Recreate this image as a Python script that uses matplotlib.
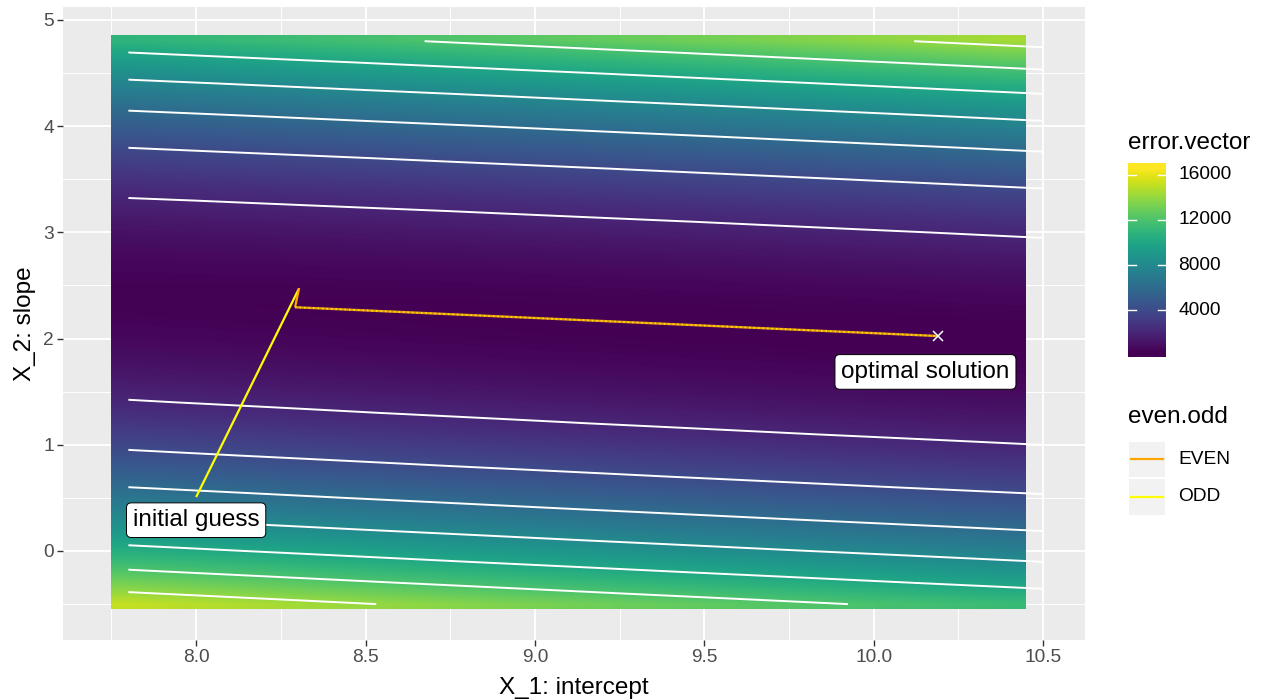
import numpy as np
import matplotlib.pyplot as plt
from matplotlib.lines import Line2D
from matplotlib.patches import Rectangle

# --- datos -------------------------------------------------------------
# superficie de error (suma de cuadrados) alrededor de la solucion optima
b0_opt = 10.19          # intercepto en el minimo
b1_opt = 2.02           # pendiente en el minimo
sse_min = 300
valley_slope = -0.148   # direccion del valle (d b1 / d b0)
curv_across = 1786      # subida del error por unidad^2 fuera del valle
curv_along = 15         # subida del error por unidad^2 a lo largo del valle

raster_b0 = np.round(np.arange(7.8, 10.41, 0.1), 2)
raster_b1 = np.round(np.arange(-0.5, 4.81, 0.1), 2)
contour_b0 = np.round(np.arange(7.8, 10.51, 0.1), 2)
contour_b1 = raster_b1
contour_levels = [2000, 4000, 6000, 8000, 10000, 12000, 14000, 16000]
fill_limits = [300, 16600]
cbar_ticks = [4000, 8000, 12000, 16000]

# camino del descenso por gradiente
path_b0 = [8.0, 8.304, 8.292, 10.19]
path_b1 = [0.508, 2.474, 2.295, 2.024]
parity_names = ['EVEN', 'ODD']
parity_colors = {'EVEN': '#FFA500', 'ODD': '#FFFF00'}

x_ticks = [8.0, 8.5, 9.0, 9.5, 10.0, 10.5]
x_minor = [7.75, 8.25, 8.75, 9.25, 9.75, 10.25]
y_ticks = [0, 1, 2, 3, 4, 5]
y_minor = [-0.5, 0.5, 1.5, 2.5, 3.5, 4.5]


def sse(b0, b1):
    u = b0 - b0_opt
    w = b1 - (b1_opt + valley_slope * u)
    return sse_min + curv_across * w ** 2 + curv_along * u ** 2


W, H = 1261, 700
def fx(px):
    return px / W
def fy(py):
    return 1 - py / H

TITLE = 17.5
SMALL = 13.8

plt.rcParams['font.family'] = ['Liberation Sans', 'DejaVu Sans']
fig = plt.figure(figsize=(W / 100, H / 100), dpi=100)

# --- panel -------------------------------------------------------------
ax = fig.add_axes([fx(63), fy(640), (1085 - 63) / W, (640 - 7) / H])
ax.set_facecolor('#EBEBEB')
for s in ax.spines.values():
    s.set_visible(False)

B0, B1 = np.meshgrid(raster_b0, raster_b1)
Z = sse(B0, B1)
half = 0.05
ax.imshow(Z, origin='lower', cmap='viridis', vmin=fill_limits[0], vmax=fill_limits[1],
          extent=[raster_b0[0] - half, raster_b0[-1] + half, raster_b1[0] - half, raster_b1[-1] + half],
          interpolation='bilinear', aspect='auto', zorder=1)

C0, C1 = np.meshgrid(contour_b0, contour_b1)
ax.contour(C0, C1, sse(C0, C1), levels=contour_levels, colors='white', linewidths=1.4, zorder=2)

# camino: paso 1 impar, paso 2 par, despues alternando a lo largo del valle
ax.plot(path_b0[0:2], path_b1[0:2], color=parity_colors['ODD'], lw=1.6,
        solid_capstyle='butt', zorder=3)
ax.plot(path_b0[1:3], path_b1[1:3], color=parity_colors['EVEN'], lw=1.6,
        solid_capstyle='butt', zorder=3)
ax.plot(path_b0[2:], path_b1[2:], color='#E89A10', lw=1.7,
        solid_capstyle='butt', zorder=3)
ax.plot(path_b0[2:], path_b1[2:], color=parity_colors['ODD'], lw=1.2, alpha=0.8,
        dashes=(0.9, 1.8), zorder=3)
ax.plot([b0_opt], [b1_opt], marker='x', color='white', ms=7, mew=1.1, zorder=4)

box = dict(boxstyle='round,pad=0.26,rounding_size=0.2', fc='white', ec='black', lw=0.7)
ax.text(8.0, 0.29, 'initial guess', fontsize=TITLE, ha='center', va='center', bbox=box, zorder=5)
ax.text(10.153, 1.686, 'optimal solution', fontsize=TITLE, ha='center', va='center', bbox=box, zorder=5)

ax.set_xlim(7.607, 10.624)
ax.set_ylim(-0.838, 5.122)
ax.set_xticks(x_ticks)
ax.set_xticklabels([f'{v:.1f}' for v in x_ticks])
ax.set_xticks(x_minor, minor=True)
ax.set_yticks(y_ticks)
ax.set_yticks(y_minor, minor=True)
ax.grid(which='major', color='white', lw=1.3, zorder=0)
ax.grid(which='minor', color='white', lw=0.7, zorder=0)
ax.set_axisbelow(True)
ax.tick_params(which='minor', length=0)
ax.tick_params(which='major', length=4, width=1, color='#333333',
               labelcolor='#4D4D4D', labelsize=SMALL, pad=2.5)
ax.set_xlabel('X_1: intercept', fontsize=TITLE, labelpad=8)
ax.set_ylabel('X_2: slope', fontsize=TITLE, labelpad=5)

# --- leyenda de color --------------------------------------------------
fig.text(fx(1128), fy(143), 'error.vector', fontsize=TITLE, va='center', ha='left')
pad = (fill_limits[1] - fill_limits[0]) * 0.5 / 19
lo, hi = fill_limits[0] - pad, fill_limits[1] + pad
cax = fig.add_axes([fx(1128), fy(356.7), 38 / W, 193.4 / H])
grad = np.linspace(lo, hi, 300).reshape(-1, 1)
cax.imshow(grad, origin='lower', extent=[0, 1, lo, hi], aspect='auto', cmap='viridis',
           vmin=fill_limits[0], vmax=fill_limits[1], interpolation='bilinear')
cax.set_xlim(0, 1)
cax.set_ylim(lo, hi)
cax.axis('off')
for t in cbar_ticks:
    cax.plot([0, 0.2], [t, t], color='white', lw=1)
    cax.plot([0.8, 1], [t, t], color='white', lw=1)
    cax.text(1.32, t, str(t), fontsize=SMALL, va='center', ha='left', transform=cax.transData)

# --- leyenda par/impar -------------------------------------------------
fig.text(fx(1128), fy(416.7), 'even.odd', fontsize=TITLE, va='center', ha='left')
for i, name in enumerate(parity_names):
    top = 441.7 + i * 37.5
    fig.patches.append(Rectangle((fx(1129), fy(top + 35.5)), 36 / W, 35.5 / H,
                                 transform=fig.transFigure, fc='#F2F2F2', ec='none'))
    yc = fy(top + 17.7)
    fig.lines.append(Line2D([fx(1131), fx(1163)], [yc, yc], transform=fig.transFigure,
                            color=parity_colors[name], lw=1.6))
    fig.text(fx(1178), yc, name, fontsize=SMALL, va='center', ha='left')

fig.savefig('out.png', dpi=100)
